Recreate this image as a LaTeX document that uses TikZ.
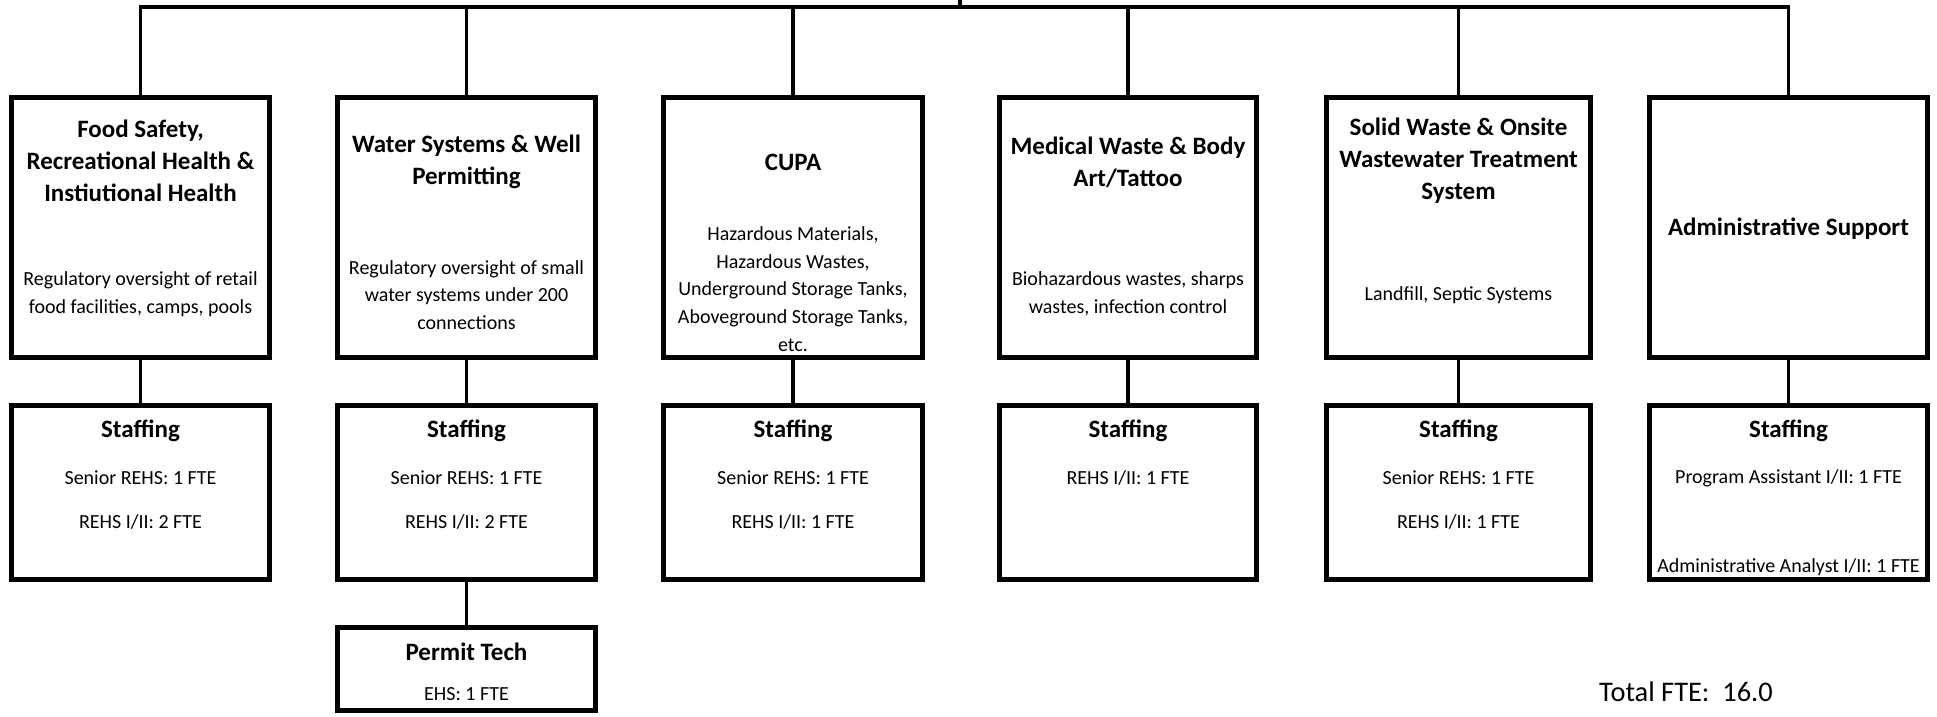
\documentclass[tikz,border=0pt]{standalone}
\usepackage{fontspec}
\setmainfont{Carlito}
\usepackage{tikz}
\usetikzlibrary{positioning}

\begin{document}
\begin{tikzpicture}[x=0.5pt,y=-0.5pt,
  unit/.style={draw,line width=2.4pt,minimum height=130pt,inner sep=0pt},
  staff/.style={draw,line width=2.4pt,minimum height=87pt,inner sep=0pt},
  head/.style={font=\fontsize{12.5}{16}\selectfont\bfseries,align=center,inner sep=0pt},
  desc/.style={font=\fontsize{10}{13.8}\selectfont,align=center,inner sep=0pt},
  link/.style={line width=1.6pt}]
  \useasboundingbox (0,0) rectangle (1937,717);
  % program boxes
  \node[unit,minimum width=129pt] (u1) at (140.5,227.5) {};
  \node[unit,minimum width=129pt] (u2) at (466.5,227.5) {};
  \node[unit,minimum width=129.5pt] (u3) at (793,227.5) {};
  \node[unit,minimum width=128.5pt] (u4) at (1128,227.5) {};
  \node[unit,minimum width=132pt] (u5) at (1458.5,227.5) {};
  \node[unit,minimum width=139pt] (u6) at (1788.5,227.5) {};
  \node[head] (h1) at (140.5,161) {Food Safety,\\Recreational Health \&\\Instiutional Health};
  \node[desc] (d1) at (140.5,294) {Regulatory oversight of retail\\food facilities, camps, pools};
  \node[head] (h2) at (466.5,162) {Water Systems \& Well\\Permitting};
  \node[desc] (d2) at (466.5,295) {Regulatory oversight of small\\water systems under 200\\connections};
  \node[head] (h3) at (793,162) {CUPA};
  \node[desc] (d3) at (793,289) {Hazardous Materials,\\Hazardous Wastes,\\Underground Storage Tanks,\\Aboveground Storage Tanks,\\etc.};
  \node[head] (h4) at (1128,162) {Medical Waste \& Body\\Art/Tattoo};
  \node[desc] (d4) at (1128,294) {Biohazardous wastes, sharps\\wastes, infection control};
  \node[head] (h5) at (1458.5,161) {Solid Waste \& Onsite\\Wastewater Treatment\\System};
  \node[desc] (d5) at (1458.5,295) {Landfill, Septic Systems};
  \node[head] (h6) at (1788.5,229) {Administrative Support};
  % staffing boxes
  \node[staff,minimum width=129pt] (s1) at (140.5,492.5) {};
  \node[staff,minimum width=129pt] (s2) at (466.5,492.5) {};
  \node[staff,minimum width=129.5pt] (s3) at (793,492.5) {};
  \node[staff,minimum width=128.5pt] (s4) at (1128,492.5) {};
  \node[staff,minimum width=132pt] (s5) at (1458.5,492.5) {};
  \node[staff,minimum width=139pt] (s6) at (1788.5,492.5) {};
  \node[head] (t1) at (140.5,431) {Staffing};
  \node[desc] (a1) at (140.5,478) {Senior REHS: 1 FTE};
  \node[desc] (b1) at (140.5,522) {REHS I/II: 2 FTE};
  \node[head] (t2) at (466.5,431) {Staffing};
  \node[desc] (a2) at (466.5,478) {Senior REHS: 1 FTE};
  \node[desc] (b2) at (466.5,522) {REHS I/II: 2 FTE};
  \node[head] (t3) at (793,431) {Staffing};
  \node[desc] (a3) at (793,478) {Senior REHS: 1 FTE};
  \node[desc] (b3) at (793,522) {REHS I/II: 1 FTE};
  \node[head] (t4) at (1128,431) {Staffing};
  \node[desc] (a4) at (1128,478) {REHS I/II: 1 FTE};
  \node[head] (t5) at (1458.5,431) {Staffing};
  \node[desc] (a5) at (1458.5,478) {Senior REHS: 1 FTE};
  \node[desc] (b5) at (1458.5,522) {REHS I/II: 1 FTE};
  \node[head] (t6) at (1788.5,431) {Staffing};
  \node[desc] (a6) at (1788.5,478) {Program Assistant I/II: 1 FTE};
  \node[desc] (b6) at (1788.5,567) {Administrative Analyst I/II: 1 FTE};
  % permit tech
  \node[staff,minimum width=129pt,minimum height=41.75pt] (p2) at (466.5,669) {};
  \node[head] (pt) at (466.5,652) {Permit Tech};
  \node[desc] (pe) at (466.5,694) {EHS: 1 FTE};
  \node[font=\fontsize{14.2}{17}\selectfont,inner sep=0pt] (tot) at (1686,692) {Total FTE:\ \ 16.0};
  % lines
  \coordinate (hub) at (960,0);
  \coordinate (bus) at (960,7);
  \draw[link] (hub) -- (bus);
  \draw[link] (u1.north) |- (bus) -| (u6.north);
  \draw[link] (u2.north) -- (u2.north |- bus);
  \draw[link] (u3.north) -- (u3.north |- bus);
  \draw[link] (u4.north) -- (u4.north |- bus);
  \draw[link] (u5.north) -- (u5.north |- bus);
  \draw[link] (u1.south) -- (s1.north);
  \draw[link] (u2.south) -- (s2.north);
  \draw[link] (u3.south) -- (s3.north);
  \draw[link] (u4.south) -- (s4.north);
  \draw[link] (u5.south) -- (s5.north);
  \draw[link] (u6.south) -- (s6.north);
  \draw[link] (s2.south) -- (p2.north);
\end{tikzpicture}
\end{document}
